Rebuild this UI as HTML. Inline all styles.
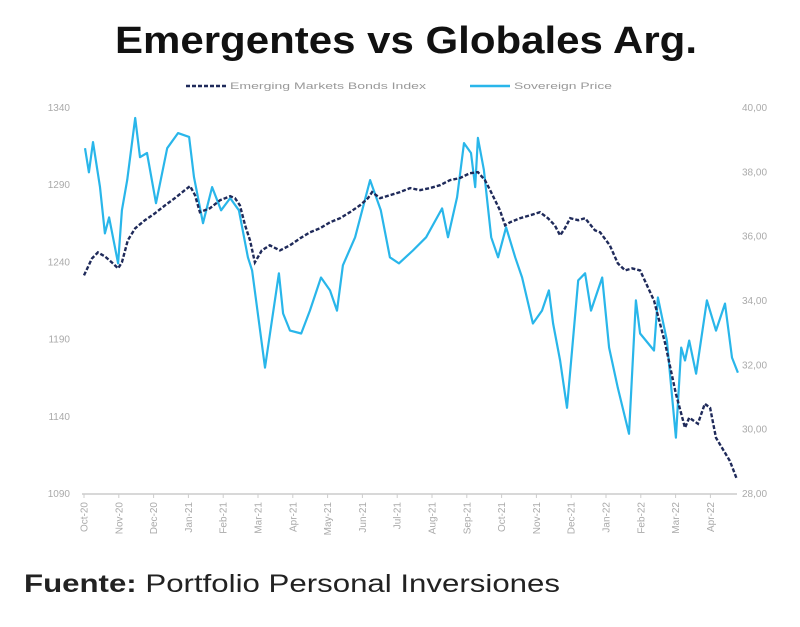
<!DOCTYPE html>
<html><head><meta charset="utf-8"><style>
body{margin:0;background:#fff;width:800px;height:622px;overflow:hidden;font-family:"Liberation Sans",sans-serif}
</style></head><body>
<svg id="c" width="800" height="622" xmlns="http://www.w3.org/2000/svg">
<text x="115" y="53" font-size="38" font-weight="bold" fill="#111" textLength="582" lengthAdjust="spacingAndGlyphs">Emergentes vs Globales Arg.</text>
<g>
<line x1="186" y1="86" x2="228" y2="86" stroke="#1f2a5a" stroke-width="2.5" stroke-dasharray="4,2"/>
<text x="230" y="89" font-size="9" fill="#999" textLength="196" lengthAdjust="spacingAndGlyphs">Emerging Markets Bonds Index</text>
<line x1="470" y1="86" x2="510" y2="86" stroke="#29b6ea" stroke-width="2.5"/>
<text x="514" y="89" font-size="9" fill="#999" textLength="98" lengthAdjust="spacingAndGlyphs">Sovereign Price</text>
</g>
<line x1="82" y1="494" x2="737" y2="494" stroke="#ccc" stroke-width="1.5"/>
<g id="ticks"></g>
<g id="series"></g>
<text x="24" y="592" font-size="25" fill="#222" textLength="536" lengthAdjust="spacingAndGlyphs"><tspan font-weight="bold">Fuente:</tspan> Portfolio Personal Inversiones</text>
</svg>
<script>
const monthLabels=["Oct-20","Nov-20","Dec-20","Jan-21","Feb-21","Mar-21","Apr-21","May-21","Jun-21","Jul-21","Aug-21","Sep-21","Oct-21","Nov-21","Dec-21","Jan-22","Feb-22","Mar-22","Apr-22"];
const leftTicks=[1090,1140,1190,1240,1290,1340];
const rightTicks=["28,00","30,00","32,00","34,00","36,00","38,00","40,00"];
const rightTickValues=[28,30,32,34,36,38,40];
const embT=[0,0.23,0.4,0.6,0.8,0.98,1.09,1.26,1.47,1.75,2.04,2.33,2.61,2.9,3.05,3.19,3.33,3.62,3.91,4.2,4.34,4.48,4.63,4.77,4.91,5.11,5.34,5.63,5.92,6.21,6.49,6.78,7.07,7.36,7.64,7.93,8.16,8.28,8.51,8.79,9.08,9.37,9.66,9.94,10.23,10.52,10.8,11.09,11.32,11.52,11.67,11.95,12.1,12.24,12.53,12.82,13.1,13.33,13.53,13.68,13.82,13.97,14.2,14.4,14.68,14.83,15.11,15.34,15.55,15.75,15.98,16.38,16.7,17.01,17.27,17.39,17.64,17.84,17.99,18.16,18.56,18.76];
const embV=[1231.6,1242.6,1246.5,1243.9,1240,1236.1,1240,1254.3,1262.1,1267.3,1271.8,1277,1281.6,1286.8,1289.4,1283.5,1272.5,1275.1,1280.3,1282.9,1281.6,1277,1264,1254.3,1240,1247.8,1251.1,1247.8,1251.1,1255.6,1259.5,1262.1,1266,1268.6,1272.5,1277,1281.6,1285.5,1281.6,1283.5,1285.5,1288.1,1286.8,1288.1,1290,1293.3,1294.6,1297.8,1298.5,1293.3,1286.8,1273.8,1264,1266,1268.6,1270.5,1272.5,1268.6,1264,1257.5,1262.1,1268.6,1267.3,1268.6,1260.8,1259.5,1251.1,1239.4,1234.8,1236.1,1234.8,1215.3,1187.4,1154.9,1132.9,1139.4,1135.5,1148.4,1145.8,1126.4,1111.4,1099.7];
const sovT=[0.03,0.14,0.26,0.46,0.6,0.72,0.98,1.09,1.24,1.47,1.61,1.81,2.07,2.39,2.7,3.02,3.16,3.42,3.68,3.94,4.2,4.45,4.71,4.83,5.06,5.2,5.4,5.6,5.72,5.92,6.24,6.49,6.81,7.07,7.27,7.44,7.79,8.22,8.53,8.79,9.05,9.45,9.83,10.29,10.46,10.72,10.92,11.12,11.24,11.32,11.49,11.7,11.9,12.13,12.39,12.59,12.9,13.16,13.36,13.48,13.68,13.88,14.2,14.4,14.57,14.89,15.09,15.34,15.66,15.86,15.98,16.38,16.49,16.75,17.01,17.16,17.27,17.39,17.59,17.9,18.16,18.42,18.62,18.79];
const sovV=[38.75,38,38.94,37.54,36.1,36.6,35.17,36.82,37.76,39.69,38.47,38.6,37.04,38.75,39.22,39.1,37.85,36.42,37.54,36.82,37.2,36.82,35.36,34.95,33.08,31.93,33.39,34.86,33.61,33.08,32.99,33.7,34.73,34.33,33.7,35.11,35.98,37.76,36.82,35.36,35.17,35.57,35.98,36.88,35.98,37.23,38.91,38.6,37.54,39.07,38.07,35.98,35.36,36.29,35.36,34.73,33.3,33.7,34.33,33.3,32.15,30.68,34.64,34.86,33.7,34.73,32.55,31.3,29.87,34.02,32.99,32.46,34.11,32.77,29.75,32.55,32.15,32.77,31.74,34.02,33.08,33.92,32.24,31.77];
const NS="http://www.w3.org/2000/svg";
const xS=t=>84+t*34.8;
const yL=v=>494-(v-1090)*(494-108)/250;
const yR=v=>494-(v-28)*(494-108)/12;
function mk(tag,attrs,parent){const e=document.createElementNS(NS,tag);for(const k in attrs)e.setAttribute(k,attrs[k]);parent.appendChild(e);return e;}
const tk=document.getElementById('ticks');
monthLabels.forEach((m,i)=>{
  const x=xS(i);
  const l=mk('line',{x1:x,y1:494,x2:x,y2:498,stroke:'#ccc'},tk);
  
  
  const t=mk('text',{x:0,y:0,'font-size':'10',fill:'#aaa','text-anchor':'end',transform:`translate(${x+3.5},502) rotate(-90)`},tk);
  
  
  t.textContent=m;
});
leftTicks.forEach(v=>{
  const t=mk('text',{x:70,y:yL(v)+3,'font-size':'10',fill:'#aaa','text-anchor':'end'},tk);
  
  
  t.textContent=v;
});
rightTickValues.forEach((v,i)=>{
  const t=mk('text',{x:742,y:yR(v)+3,'font-size':'10',fill:'#aaa'},tk);
  
  
  t.textContent=rightTicks[i];
});
const sg=document.getElementById('series');
const sp=mk('path',{d:sovT.map((t,i)=>(i?'L':'M')+xS(t).toFixed(1)+','+yR(sovV[i]).toFixed(1)).join(''),fill:'none',stroke:'#29b6ea','stroke-width':'2.2','stroke-linejoin':'round'},sg);


const ep=mk('path',{d:embT.map((t,i)=>(i?'L':'M')+xS(t).toFixed(1)+','+yL(embV[i]).toFixed(1)).join(''),fill:'none',stroke:'#1f2a5a','stroke-width':'2.4','stroke-dasharray':'4,2'},sg);


</script>
</body></html>
